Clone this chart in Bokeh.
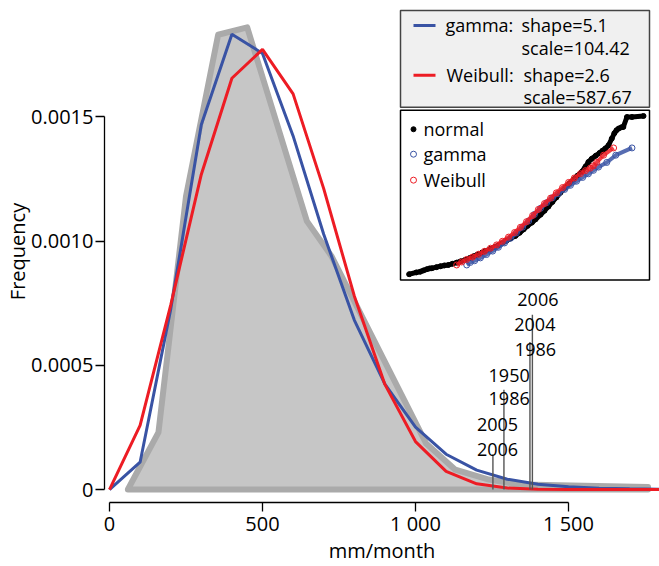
from bokeh.plotting import figure
from bokeh.models import Range1d, FixedTicker
from bokeh.core.properties import value
from bokeh.embed import file_html
from bokeh.resources import INLINE

# ---------------- data ----------------
# frequency polygon of monthly precipitation (mm/month)
hist_x = [60, 160, 250, 355, 450, 645, 725, 1035, 1130, 1240, 1345, 1760, 1760]
hist_y = [0, 0.00023, 0.00118, 0.00183, 0.00186, 0.00108, 0.00094, 0.000185,
          0.00008, 0.00004, 0.00002, 0.00001, 0]

# fitted densities
fit_x = [0, 100, 200, 300, 400, 500, 600, 700, 800, 900, 1000, 1100, 1200,
         1300, 1400, 1500, 1600, 1700, 1800]
gamma_y = [0, 0.000110, 0.000725, 0.001468, 0.001832, 0.001755, 0.001423,
           0.001027, 0.000682, 0.000424, 0.000251, 0.000142, 0.0000780,
           0.0000415, 0.0000216, 0.0000110, 0.0000055, 0.0000027, 0.0000013]
weibull_y = [0, 0.000258, 0.000742, 0.001268, 0.001655, 0.001771, 0.001592,
             0.001211, 0.000779, 0.000423, 0.000193, 0.0000733, 0.0000231,
             0.0000060, 0.0000013, 0.0000002, 0, 0, 0]

# extreme months
ext_x = [1253, 1289, 1374, 1382]
ext_top = [0.000141, 0.000402, 0.000594, 0.000703]
year_labels = ["2006", "2005", "1986", "1950", "1986", "2004", "2006"]
year_x = [1268, 1268, 1306, 1306, 1392, 1390, 1400]
year_y = [0.000161, 0.000261, 0.000365, 0.000458, 0.000562, 0.000663, 0.000763]

# Q-Q inset: theoretical quantile vs sample (mm/month)
qq_norm_x = [-3.26, -3.06, -2.95, -2.86, -2.77, -2.69, -2.63, -2.50, -2.39, -2.28,
             -2.17, -2.06, -1.94, -1.83, -1.70, -1.58, -1.47, -1.36, -1.24, -1.14,
             -1.00, -0.89, -0.78, -0.67, -0.56, -0.44, -0.31, -0.19, -0.08, 0.03,
             0.15, 0.25, 0.39, 0.50, 0.61, 0.72, 0.83, 0.94, 1.08, 1.19,
             1.31, 1.42, 1.54, 1.64, 1.72, 1.81, 1.92, 2.03, 2.11, 2.19,
             2.28, 2.37, 2.44, 2.50, 2.56, 2.64, 2.69, 2.79, 2.93, 3.25]
qq_norm_y = [63, 83, 91, 105, 118, 127, 129, 141, 151, 160,
             165, 178, 191, 205, 222, 241, 260, 280, 300, 318,
             342, 362, 382, 405, 432, 458, 485, 520, 558, 596,
             632, 668, 720, 764, 810, 860, 910, 962, 1018, 1063,
             1108, 1150, 1193, 1250, 1300, 1335, 1368, 1400, 1425, 1449,
             1485, 1559, 1617, 1650, 1669, 1683, 1686, 1796, 1796, 1807]
qq_gamma_x = [-1.66, -1.56, -1.44, -1.28, -1.11, -0.94, -0.78, -0.61, -0.44, -0.28,
              -0.11, 0.06, 0.22, 0.39, 0.56, 0.72, 0.89, 1.06, 1.22, 1.39,
              1.56, 1.72, 1.86, 2.00, 2.23, 2.48, 2.93]
qq_gamma_y = [165, 193, 212, 243, 280, 318, 360, 408, 460, 518,
              582, 650, 722, 790, 852, 905, 952, 998, 1043, 1088,
              1130, 1170, 1208, 1244, 1295, 1375, 1455]
qq_weib_x = [-1.94, -1.80, -1.66, -1.50, -1.33, -1.17, -1.00, -0.83, -0.67, -0.50,
             -0.33, -0.17, 0.00, 0.17, 0.33, 0.50, 0.67, 0.83, 1.00, 1.17,
             1.33, 1.50, 1.64, 1.77, 1.86, 1.95, 2.14, 2.42]
qq_weib_y = [165, 198, 226, 252, 283, 315, 350, 386, 426, 472,
             523, 580, 642, 710, 777, 842, 902, 960, 1018, 1075,
             1124, 1172, 1205, 1232, 1258, 1295, 1375, 1455]

x_ticks = [0, 500, 1000, 1500]
x_tick_labels = ["0", "500", "1 000", "1 500"]
y_ticks = [0, 0.0005, 0.001, 0.0015]
y_tick_labels = ["0", "0.0005", "0.0010", "0.0015"]

# ---------------- layout helpers (pixel layout -> data) ----------------
W, H = 659, 566
FL, FR, FT, FB = 104, 659, 0, 503
X0_PX, PX_PER_X = 109.0, 0.306
Y0_PY, PX_PER_Y = 490.0, 249000.0


def xd(px):
    return (px - X0_PX) / PX_PER_X


def yd(py):
    return (Y0_PY - py) / PX_PER_Y


def qxd(px):
    return (px - 526.0) / 36.0


def qyd(py):
    return (280.0 - py) * 11.0


FONT = "Open Sans"
BLUE = "#3953a4"
RED = "#ed1c24"

p = figure(width=W, height=H, output_backend="svg", toolbar_location=None,
           x_range=Range1d(xd(FL), xd(FR)), y_range=Range1d(yd(FB), yd(FT)),
           min_border_left=FL, min_border_right=W - FR, min_border_top=FT,
           min_border_bottom=H - FB)
p.outline_line_color = None
p.xgrid.visible = False
p.ygrid.visible = False
p.background_fill_color = "white"

p.extra_x_ranges = {"qx": Range1d(qxd(FL), qxd(FR))}
p.extra_y_ranges = {"qy": Range1d(qyd(FB), qyd(FT))}

for ax in (p.xaxis[0], p.yaxis[0]):
    ax.axis_line_width = 1.3
    ax.major_tick_line_width = 1.3
    ax.major_tick_out = 9
    ax.major_tick_in = 0
    ax.minor_tick_line_color = None
    ax.major_label_text_font = FONT
    ax.major_label_text_font_size = "20px"
    ax.major_label_text_color = "black"
    ax.major_label_text_line_height = 1.0
    ax.axis_label_text_font = FONT
    ax.axis_label_text_font_size = "20px"
    ax.axis_label_text_font_style = "normal"
    ax.axis_label_text_color = "black"
    ax.axis_label_text_line_height = 1.0

p.xaxis.ticker = FixedTicker(ticks=x_ticks)
p.xaxis.major_label_overrides = dict(zip(x_ticks, x_tick_labels))
p.xaxis.bounds = (x_ticks[0], x_ticks[-1])
p.xaxis.axis_label = "mm/month"
p.xaxis.major_label_standoff = -2
p.xaxis.axis_label_standoff = -3

p.yaxis.ticker = FixedTicker(ticks=y_ticks)
p.yaxis.major_label_overrides = dict(zip(y_ticks, y_tick_labels))
p.yaxis.bounds = (y_ticks[0], y_ticks[-1])
p.yaxis.axis_label = "Frequency"
p.yaxis.major_label_standoff = 2
p.yaxis.axis_label_standoff = -3

# histogram polygon
p.patch(hist_x, hist_y, fill_color="#c6c6c6", line_color="#aaaaaa",
        line_width=6, line_join="round")

# fitted curves
p.line(fit_x, gamma_y, line_color=BLUE, line_width=3)
p.line(fit_x, weibull_y, line_color=RED, line_width=3)

# extreme month markers
p.segment(x0=ext_x, y0=[0] * len(ext_x), x1=ext_x, y1=ext_top,
          line_color="#555555", line_width=1.4)
p.text(x=year_x, y=year_y, text=year_labels, text_font=value(FONT),
       text_font_size="18px", text_align="center", text_baseline="middle",
       text_color="black")

# ---- legend box ----
p.quad(left=[xd(400)], right=[xd(649)], top=[yd(10)], bottom=[yd(107)],
       fill_color="#f0f0f0", line_color="#444444", line_width=1.5)
p.segment(x0=[xd(413), xd(413)], y0=[yd(25), yd(75)], x1=[xd(435), xd(435)],
          y1=[yd(25), yd(75)], line_color=[BLUE, RED], line_width=3)
p.text(x=[xd(445), xd(521), xd(521), xd(446), xd(523), xd(523)],
       y=[yd(25), yd(25), yd(48), yd(75), yd(75), yd(97)],
       text=["gamma:", "shape=5.1", "scale=104.42", "Weibull:", "shape=2.6",
             "scale=587.67"],
       text_font=value(FONT), text_font_size="18px", text_align="left",
       text_baseline="middle", text_color="black")

# ---- Q-Q inset ----
p.quad(left=[xd(400)], right=[xd(649)], top=[yd(110)], bottom=[yd(280)],
       fill_color="white", line_color="black", line_width=1.5)
p.line(qq_norm_x, qq_norm_y, x_range_name="qx", y_range_name="qy",
       line_color="black", line_width=5)
p.scatter(qq_norm_x, qq_norm_y, x_range_name="qx", y_range_name="qy",
          marker="circle", size=5, fill_color="black", line_color="black")
p.line(qq_gamma_x, qq_gamma_y, x_range_name="qx", y_range_name="qy",
       line_color=BLUE, line_width=4, line_alpha=0.85)
p.scatter(qq_gamma_x, qq_gamma_y, x_range_name="qx", y_range_name="qy",
          marker="circle", size=6, fill_color=None, line_color=BLUE, line_width=1)
p.line(qq_weib_x, qq_weib_y, x_range_name="qx", y_range_name="qy",
       line_color=RED, line_width=4, line_alpha=0.85)
p.scatter(qq_weib_x, qq_weib_y, x_range_name="qx", y_range_name="qy",
          marker="circle", size=6, fill_color=None, line_color=RED, line_width=1)

# inset legend
p.scatter(x=[xd(413)], y=[yd(129)], marker="circle", size=5,
          fill_color="black", line_color="black")
p.scatter(x=[xd(413), xd(413)], y=[yd(154), yd(180)], marker="circle", size=6,
          fill_color=None, line_color=[BLUE, RED], line_width=1)
p.text(x=[xd(423)] * 3, y=[yd(129), yd(154), yd(180)],
       text=["normal", "gamma", "Weibull"], text_font=value(FONT),
       text_font_size="18px", text_align="left", text_baseline="middle",
       text_color="black")

open("out.html", "w").write(file_html(p, INLINE))
